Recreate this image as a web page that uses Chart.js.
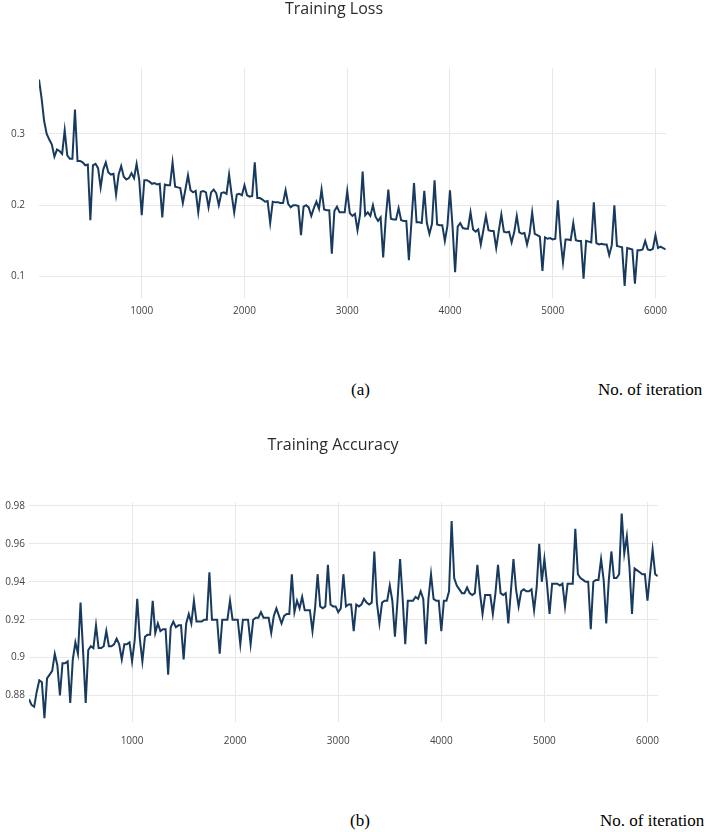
<!DOCTYPE html>
<html>
<head>
<meta charset="utf-8">
<script src="https://cdn.jsdelivr.net/npm/chart.js@4"></script>
<style>
  html, body { margin: 0; padding: 0; background: #fff; width: 720px; height: 832px; overflow: hidden; }
  canvas { position: absolute; left: 0; }
  .cap { position: absolute; font-family: "Liberation Serif", "Times New Roman", serif; font-size: 17px; line-height: 1; color: #000; white-space: nowrap; }
</style>
</head>
<body>
<canvas id="loss" width="674" height="340" style="top:0"></canvas>
<canvas id="acc" width="672" height="330" style="top:436px"></canvas>
<div class="cap" style="left:351px; top:381px">(a)</div>
<div class="cap" style="left:598px; top:381px">No. of iteration</div>
<div class="cap" style="left:350px; top:812px">(b)</div>
<div class="cap" style="left:600px; top:812px">No. of iteration</div>
<script>
// iteration number of each logged point
const iterations = [
	0, 25, 50, 75, 100, 125, 150, 175, 200, 225,
	250, 275, 300, 325, 350, 375, 400, 425, 450, 475,
	500, 525, 550, 575, 600, 625, 650, 675, 700, 725,
	750, 775, 800, 825, 850, 875, 900, 925, 950, 975,
	1000, 1025, 1050, 1075, 1100, 1125, 1150, 1175, 1200, 1225,
	1250, 1275, 1300, 1325, 1350, 1375, 1400, 1425, 1450, 1475,
	1500, 1525, 1550, 1575, 1600, 1625, 1650, 1675, 1700, 1725,
	1750, 1775, 1800, 1825, 1850, 1875, 1900, 1925, 1950, 1975,
	2000, 2025, 2050, 2075, 2100, 2125, 2150, 2175, 2200, 2225,
	2250, 2275, 2300, 2325, 2350, 2375, 2400, 2425, 2450, 2475,
	2500, 2525, 2550, 2575, 2600, 2625, 2650, 2675, 2700, 2725,
	2750, 2775, 2800, 2825, 2850, 2875, 2900, 2925, 2950, 2975,
	3000, 3025, 3050, 3075, 3100, 3125, 3150, 3175, 3200, 3225,
	3250, 3275, 3300, 3325, 3350, 3375, 3400, 3425, 3450, 3475,
	3500, 3525, 3550, 3575, 3600, 3625, 3650, 3675, 3700, 3725,
	3750, 3775, 3800, 3825, 3850, 3875, 3900, 3925, 3950, 3975,
	4000, 4025, 4050, 4075, 4100, 4125, 4150, 4175, 4200, 4225,
	4250, 4275, 4300, 4325, 4350, 4375, 4400, 4425, 4450, 4475,
	4500, 4525, 4550, 4575, 4600, 4625, 4650, 4675, 4700, 4725,
	4750, 4775, 4800, 4825, 4850, 4875, 4900, 4925, 4950, 4975,
	5000, 5025, 5050, 5075, 5100, 5125, 5150, 5175, 5200, 5225,
	5250, 5275, 5300, 5325, 5350, 5375, 5400, 5425, 5450, 5475,
	5500, 5525, 5550, 5575, 5600, 5625, 5650, 5675, 5700, 5725,
	5750, 5775, 5800, 5825, 5850, 5875, 5900, 5925, 5950, 5975,
	6000, 6025, 6050, 6075, 6100
];

const lossValues = [
	0.376, 0.35, 0.318, 0.30, 0.292, 0.285, 0.268, 0.278, 0.276, 0.272,
	0.305, 0.27, 0.265, 0.265, 0.334, 0.262, 0.262, 0.26, 0.256, 0.257,
	0.179, 0.256, 0.258, 0.252, 0.225, 0.25, 0.26, 0.246, 0.243, 0.244,
	0.215, 0.243, 0.255, 0.24, 0.236, 0.238, 0.245, 0.238, 0.258, 0.236,
	0.186, 0.235, 0.235, 0.233, 0.23, 0.231, 0.229, 0.23, 0.183, 0.229,
	0.228, 0.228, 0.26, 0.226, 0.225, 0.224, 0.203, 0.222, 0.242, 0.221,
	0.218, 0.22, 0.19, 0.219, 0.22, 0.218, 0.197, 0.218, 0.222, 0.217,
	0.2, 0.217, 0.218, 0.216, 0.243, 0.215, 0.19, 0.215, 0.216, 0.214,
	0.228, 0.214, 0.212, 0.213, 0.26, 0.21, 0.21, 0.208, 0.205, 0.206,
	0.175, 0.205, 0.204, 0.204, 0.203, 0.203, 0.221, 0.202, 0.197, 0.2,
	0.2, 0.199, 0.158, 0.198, 0.2, 0.197, 0.185, 0.196, 0.205, 0.195,
	0.222, 0.194, 0.193, 0.193, 0.132, 0.192, 0.198, 0.19, 0.19, 0.19,
	0.22, 0.189, 0.185, 0.188, 0.165, 0.187, 0.247, 0.186, 0.19, 0.185,
	0.2, 0.184, 0.178, 0.183, 0.127, 0.182, 0.222, 0.181, 0.18, 0.18,
	0.196, 0.179, 0.178, 0.178, 0.123, 0.177, 0.231, 0.176, 0.176, 0.175,
	0.22, 0.175, 0.16, 0.174, 0.235, 0.173, 0.172, 0.172, 0.15, 0.171,
	0.221, 0.17, 0.106, 0.17, 0.175, 0.168, 0.167, 0.167, 0.19, 0.166,
	0.163, 0.166, 0.145, 0.165, 0.185, 0.165, 0.164, 0.164, 0.14, 0.164,
	0.187, 0.163, 0.162, 0.163, 0.148, 0.162, 0.185, 0.162, 0.16, 0.161,
	0.145, 0.16, 0.19, 0.16, 0.158, 0.156, 0.108, 0.155, 0.153, 0.154,
	0.152, 0.153, 0.207, 0.153, 0.12, 0.152, 0.152, 0.151, 0.175, 0.151,
	0.15, 0.15, 0.097, 0.15, 0.149, 0.148, 0.204, 0.147, 0.145, 0.146,
	0.145, 0.145, 0.13, 0.144, 0.2, 0.143, 0.142, 0.141, 0.087, 0.14,
	0.139, 0.138, 0.09, 0.137, 0.137, 0.138, 0.15, 0.138, 0.137, 0.139,
	0.158, 0.14, 0.142, 0.14, 0.138
];

const accuracyValues = [
	0.878, 0.875, 0.874, 0.882, 0.888, 0.887, 0.868, 0.889, 0.891, 0.893,
	0.902, 0.896, 0.88, 0.897, 0.897, 0.898, 0.876, 0.899, 0.908, 0.902,
	0.929, 0.903, 0.876, 0.904, 0.906, 0.905, 0.917, 0.905, 0.905, 0.906,
	0.914, 0.906, 0.906, 0.907, 0.91, 0.907, 0.899, 0.907, 0.907, 0.908,
	0.898, 0.909, 0.931, 0.91, 0.898, 0.911, 0.912, 0.912, 0.93, 0.913,
	0.918, 0.914, 0.915, 0.915, 0.891, 0.916, 0.919, 0.916, 0.917, 0.917,
	0.899, 0.918, 0.923, 0.918, 0.93, 0.919, 0.919, 0.919, 0.92, 0.92,
	0.945, 0.92, 0.92, 0.92, 0.902, 0.92, 0.92, 0.92, 0.93, 0.92,
	0.92, 0.92, 0.907, 0.92, 0.92, 0.92, 0.907, 0.92, 0.921, 0.921,
	0.924, 0.921, 0.921, 0.921, 0.913, 0.922, 0.926, 0.922, 0.918, 0.922,
	0.923, 0.923, 0.944, 0.924, 0.93, 0.926, 0.932, 0.925, 0.925, 0.925,
	0.914, 0.926, 0.944, 0.927, 0.926, 0.927, 0.949, 0.928, 0.927, 0.927,
	0.924, 0.926, 0.944, 0.927, 0.928, 0.928, 0.914, 0.928, 0.927, 0.928,
	0.931, 0.929, 0.928, 0.929, 0.956, 0.929, 0.918, 0.929, 0.93, 0.93,
	0.938, 0.93, 0.911, 0.93, 0.952, 0.931, 0.907, 0.93, 0.93, 0.93,
	0.932, 0.931, 0.935, 0.931, 0.907, 0.931, 0.944, 0.931, 0.93, 0.93,
	0.914, 0.93, 0.93, 0.935, 0.972, 0.942, 0.938, 0.936, 0.934, 0.934,
	0.937, 0.934, 0.933, 0.934, 0.949, 0.934, 0.923, 0.933, 0.933, 0.933,
	0.923, 0.934, 0.949, 0.934, 0.933, 0.934, 0.918, 0.935, 0.952, 0.936,
	0.927, 0.935, 0.936, 0.935, 0.935, 0.936, 0.925, 0.937, 0.96, 0.94,
	0.952, 0.939, 0.923, 0.939, 0.939, 0.939, 0.938, 0.939, 0.927, 0.939,
	0.939, 0.939, 0.968, 0.944, 0.942, 0.941, 0.94, 0.94, 0.915, 0.94,
	0.941, 0.941, 0.952, 0.941, 0.918, 0.941, 0.956, 0.942, 0.942, 0.944,
	0.976, 0.955, 0.964, 0.948, 0.923, 0.947, 0.946, 0.945, 0.944, 0.944,
	0.93, 0.944, 0.957, 0.944, 0.943
];

const xTicks = [1000, 2000, 3000, 4000, 5000, 6000];
const lossTicks = [0.1, 0.2, 0.3];
const accuracyTicks = [0.88, 0.9, 0.92, 0.94, 0.96, 0.98];

const gridColor = '#e8e8e8';
const tickFont = { family: 'Open Sans', size: 10 };

function drawChart(id, title, values, yTicks, o) {
	const data = {
		datasets: [{
			data: iterations.map((x, i) => ({ x: x, y: values[i] })),
			borderColor: '#173a5e',
			borderWidth: 2,
			pointRadius: 0,
			tension: 0,
			fill: false
		}]
	};
	const config = {
		type: 'line',
		data: data,
		options: {
			responsive: false,
			animation: false,
			devicePixelRatio: 1,
			layout: { padding: { left: 0, right: 6, top: 0, bottom: 0 } },
			plugins: {
				legend: { display: false },
				tooltip: { enabled: false },
				title: {
					display: true,
					text: title,
					color: '#2b2b2b',
					font: { family: 'Open Sans', size: 16, weight: 'normal' },
					padding: { top: 0, bottom: o.titleGap }
				}
			},
			scales: {
				x: {
					type: 'linear',
					min: 0,
					max: 6100,
					afterBuildTicks: s => { s.ticks = xTicks.map(v => ({ value: v })); },
					afterFit: s => { s.height = o.xHeight; },
					grid: { color: gridColor, drawTicks: false },
					border: { display: false },
					ticks: { font: tickFont, color: '#444', padding: o.xPad, maxRotation: 0, callback: v => String(v) }
				},
				y: {
					min: o.yMin,
					max: o.yMax,
					afterBuildTicks: s => { s.ticks = yTicks.map(v => ({ value: v })); },
					afterFit: s => { s.width = o.yWidth; },
					grid: { color: gridColor, drawTicks: false },
					border: { display: false },
					ticks: {
						font: tickFont,
						color: '#444',
						padding: o.yPad,
						callback: v => String(+v.toFixed(2))
					}
				}
			}
		}
	};
	let ctx = document.getElementById(id).getContext("2d")
	new Chart(ctx, config)
}

drawChart('loss', 'Training Loss', lossValues, lossTicks,
	{ titleGap: 49, xHeight: 42, xPad: 7, yWidth: 39, yPad: 14, yMin: 0.07, yMax: 0.392 });
drawChart('acc', 'Training Accuracy', accuracyValues, accuracyTicks,
	{ titleGap: 47, xHeight: 44, xPad: 13, yWidth: 29, yPad: 4, yMin: 0.866, yMax: 0.982 });
</script>
</body>
</html>
